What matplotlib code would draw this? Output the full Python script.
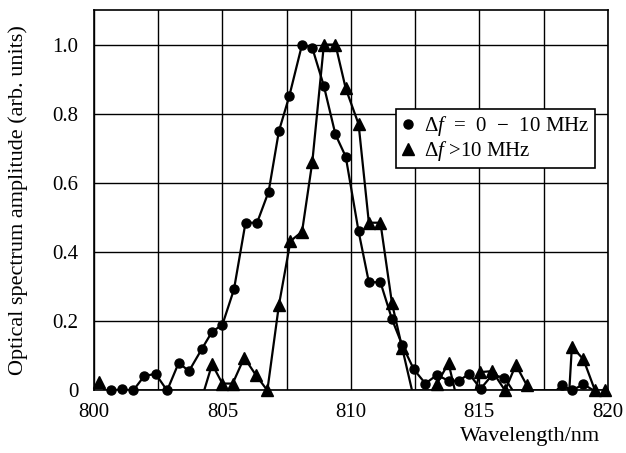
import numpy as np
import matplotlib
matplotlib.use("Agg")
import matplotlib.pyplot as plt
from matplotlib.ticker import MultipleLocator, FixedLocator

plt.rcParams['font.family'] = ['Liberation Serif', 'DejaVu Serif']
plt.rcParams['mathtext.fontset'] = 'custom'
plt.rcParams['mathtext.rm'] = 'Liberation Serif'
plt.rcParams['mathtext.it'] = 'Liberation Serif:italic'

# Series 1: Δf = 0 - 10 MHz (circles)
circ_x = [800.66, 801.1, 801.53, 801.96, 802.4, 802.85, 803.3, 803.7, 804.2, 804.6,
          805.0, 805.45, 805.9, 806.35, 806.8, 807.2, 807.6, 808.1, 808.5, 808.95,
          809.4, 809.8, 810.3, 810.7, 811.15, 811.6, 812.0, 812.45, 812.9, 813.35,
          813.8, 814.2, 814.6, 815.05, 815.5, 815.97, 818.2, 818.6, 819.05]
circ_y = [0.0, 0.003, 0.0, 0.042, 0.048, 0.0, 0.08, 0.056, 0.12, 0.17,
          0.19, 0.292, 0.485, 0.485, 0.575, 0.75, 0.85, 1.0, 0.99, 0.88,
          0.74, 0.676, 0.46, 0.313, 0.313, 0.206, 0.131, 0.061, 0.02, 0.045,
          0.028, 0.028, 0.048, 0.005, 0.045, 0.037, 0.016, 0.0, 0.018]
# where the circle trace runs along the baseline without a marker
circ_base_x = [816.3, 818.0, 819.45]

# Series 2: Δf > 10 MHz (triangles)
tri_x = [800.2, 804.6, 805.0, 805.4, 805.85, 806.3, 806.75, 807.2, 807.65, 808.1,
         808.5, 808.95, 809.4, 809.8, 810.3, 810.7, 811.15, 811.6, 812.0, 813.35,
         813.8, 815.02, 815.5, 816.0, 816.42, 816.84, 818.6, 819.05, 819.5, 819.9]
tri_y = [0.025, 0.076, 0.02, 0.02, 0.095, 0.045, 0.0, 0.247, 0.432, 0.459,
         0.661, 1.0, 1.0, 0.873, 0.77, 0.485, 0.485, 0.252, 0.122, 0.02,
         0.079, 0.053, 0.056, 0.0, 0.074, 0.016, 0.127, 0.09, 0.0, 0.0]
tri_base_x = [800.43, 804.29, 812.38, 813.15, 814.05, 814.85, 816.95, 818.5]

x_ticks = [800, 805, 810, 815, 820]
y_ticks = [0, 0.2, 0.4, 0.6, 0.8, 1.0]
y_tick_labels = ['0', '0.2', '0.4', '0.6', '0.8', '1.0']

label_c = r'$\Delta f$  =  0  −  10 MHz'
label_t = r'$\Delta f$ >10 MHz'

FS = 15
FS_LABEL = 16


def trace(xs, ys, base):
    x = np.concatenate([xs, base])
    y = np.concatenate([ys, np.zeros(len(base))])
    o = np.argsort(x)
    return x[o], y[o]


fig = plt.figure(figsize=(6.26, 4.53), dpi=100)
ax = fig.add_axes([0.150, 0.138, 0.821, 0.840])

lx, ly = trace(circ_x, circ_y, circ_base_x)
ax.plot(lx, ly, color='black', lw=1.6, zorder=3)
ax.plot(circ_x, circ_y, linestyle='none', marker='o', ms=6.5, color='black',
        clip_on=False, zorder=4, label=label_c)

lx, ly = trace(tri_x, tri_y, tri_base_x)
ax.plot(lx, ly, color='black', lw=1.6, zorder=3)
ax.plot(tri_x, tri_y, linestyle='none', marker='^', ms=8.5, color='black',
        clip_on=False, zorder=4, label=label_t)

ax.set_xlim(800, 820)
ax.set_ylim(0, 1.1)
ax.xaxis.set_major_locator(FixedLocator(x_ticks))
ax.xaxis.set_minor_locator(MultipleLocator(2.5))
ax.set_yticks(y_ticks)
ax.set_yticklabels(y_tick_labels)
ax.grid(True, which='both', axis='x', color='black', lw=1.0)
ax.grid(True, which='major', axis='y', color='black', lw=1.0)
ax.set_axisbelow(True)
ax.tick_params(which='both', length=0, labelsize=FS)
ax.tick_params(axis='x', pad=9)
ax.tick_params(axis='y', pad=11)
for s in ax.spines.values():
    s.set_linewidth(1.2)

ax.set_ylabel('Optical spectrum amplitude (arb. units)', fontsize=FS_LABEL)
ax.yaxis.set_label_coords(-0.128, 0.5)
ax.set_xlabel('Wavelength/nm', fontsize=FS_LABEL)
ax.xaxis.set_label_coords(0.984, -0.095)
ax.xaxis.label.set_horizontalalignment('right')

leg = ax.legend(loc='upper left', bbox_to_anchor=(0.588, 0.740), fontsize=FS,
                frameon=True, fancybox=False, edgecolor='black', framealpha=1,
                handlelength=0.6, handletextpad=0.5, borderpad=0.25,
                labelspacing=0.05, borderaxespad=0)
leg.get_frame().set_linewidth(1.2)

fig.savefig('out.png', dpi=100)
